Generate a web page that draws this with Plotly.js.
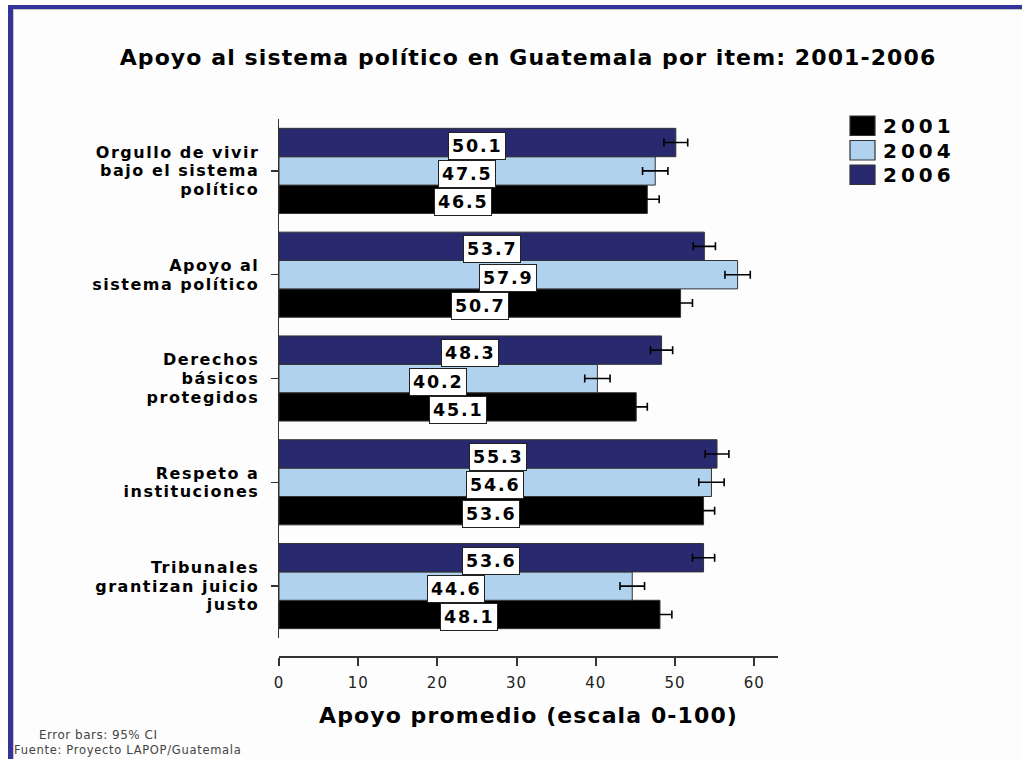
<!DOCTYPE html>
<html>
<head>
<meta charset="utf-8">
<script src="https://cdn.plot.ly/plotly-3.0.1.min.js"></script>
<style>
  html, body { margin: 0; padding: 0; background: #ffffff; }
  #wrap { position: relative; width: 1022px; height: 759px; overflow: hidden; background: #ffffff; }
  #frame { position: absolute; left: 8px; top: 5px; width: 1014px; height: 754px;
           box-sizing: border-box; border-top: 4px solid #333399; border-left: 5px solid #333399;
           background: #fdfdfd; box-shadow: inset 1px 1px 0 #c8c8c8; }
  #chart { position: absolute; left: 0; top: 0; width: 1022px; height: 759px; }
  text[style*="font-size: 22px"] { letter-spacing: 1.1px; }
  text[style*="font-size: 16px"] { letter-spacing: 1.5px; }
  text[style*="font-size: 17.5px"] { letter-spacing: 1.8px; }
  text[style*="font-size: 20px"] { letter-spacing: 4px; }
  text[style*="font-size: 15px"] { letter-spacing: 1px; }
  text[style*="font-size: 12px"] { letter-spacing: 0.5px; }
  text[style*="font-size: 11.5px"] { letter-spacing: 0.7px; }
</style>
</head>
<body>
<div id="wrap"><div id="frame"></div><div id="chart"></div></div>
<script>
// ---- data ----
const categories = [
  "Orgullo de vivir<br>bajo el sistema<br>político",
  "Apoyo al<br>sistema político",
  "Derechos<br>básicos<br>protegidos",
  "Respeto a<br>instituciones",
  "Tribunales<br>grantizan juicio<br>justo"
];
const years = ["2001", "2004", "2006"];
const values2001 = [46.5, 50.7, 45.1, 53.6, 48.1];
const values2004 = [47.5, 57.9, 40.2, 54.6, 44.6];
const values2006 = [50.1, 53.7, 48.3, 55.3, 53.6];
const err2001 = [1.5, 1.5, 1.4, 1.4, 1.5];
const err2004 = [1.6, 1.6, 1.6, 1.6, 1.55];
const err2006 = [1.5, 1.4, 1.4, 1.5, 1.4];
const tickVals = [0, 10, 20, 30, 40, 50, 60];
const titleText = "Apoyo al sistema político en Guatemala por item: 2001-2006";
const xTitleText = "Apoyo promedio (escala 0-100)";
const noteText = "Error bars: 95% CI";
const sourceText = "Fuente: Proyecto LAPOP/Guatemala";

// ---- styles ----
const colors = ["#000000", "#b0d2ef", "#29296f"];
const FONT = "DejaVu Sans, Verdana, sans-serif";
const W = 1022, H = 759;
const M = {l: 279, r: 244, t: 119, b: 102};
const PW = W - M.l - M.r, PH = H - M.t - M.b;
const px2x = p => (p - M.l) / PW;
const py2y = p => (H - M.b - p) / PH;
const bargap = 0.18;

const seriesVals = [values2001, values2004, values2006];
const seriesErr = [err2001, err2004, err2006];
const catOrder = categories.slice().reverse(); // first category on top

const traces = years.map((yr, i) => ({
  type: "bar",
  orientation: "h",
  name: yr,
  y: categories,
  x: seriesVals[i],
  marker: {color: colors[i], line: {color: "#333333", width: 1}},
  error_x: {type: "data", array: seriesErr[i], visible: true, color: "#000000", thickness: 1.6, width: 4},
  hoverinfo: "x+name"
}));

const annotations = [];
const barW = (1 - bargap) / years.length;
years.forEach((yr, i) => {
  seriesVals[i].forEach((v, j) => {
    const idx = catOrder.indexOf(categories[j]);
    annotations.push({
      x: v / 2, y: idx + (i - 1) * barW, xref: "x", yref: "y",
      text: v.toFixed(1), showarrow: false, yshift: -3,
      font: {family: FONT, size: 17.5, color: "#000000", weight: "bold"},
      bgcolor: "#ffffff", bordercolor: "#222222", borderwidth: 1, borderpad: 3
    });
  });
});

// custom legend (large swatches)
const shapes = [];
years.forEach((yr, i) => {
  const top = 116 + i * 24.5;
  shapes.push({type: "rect", xref: "paper", yref: "paper",
    x0: px2x(850), x1: px2x(875), y0: py2y(top + 19.5), y1: py2y(top),
    fillcolor: colors[i], line: {color: "#333333", width: 1.2}});
  annotations.push({xref: "paper", yref: "paper", x: px2x(881), y: py2y(top + 10),
    xanchor: "left", yanchor: "middle", text: yr, showarrow: false,
    font: {family: FONT, size: 20, color: "#000000", weight: "bold"}});
});

annotations.push({xref: "paper", yref: "paper", x: px2x(37), y: py2y(735),
  xanchor: "left", yanchor: "middle", text: noteText, showarrow: false,
  font: {family: FONT, size: 12, color: "#444444"}});
annotations.push({xref: "paper", yref: "paper", x: px2x(12), y: py2y(759),
  xanchor: "left", yanchor: "bottom", text: sourceText, showarrow: false,
  font: {family: FONT, size: 11.5, color: "#444444"}});

const layout = {
  width: W, height: H,
  margin: M,
  paper_bgcolor: "rgba(0,0,0,0)",
  plot_bgcolor: "rgba(0,0,0,0)",
  font: {family: FONT, color: "#000000"},
  showlegend: false,
  barmode: "group",
  bargap: bargap,
  bargroupgap: 0,
  title: {
    text: titleText, x: 528 / W, xanchor: "center", y: 1 - 57 / H, yanchor: "middle",
    font: {family: FONT, size: 22, color: "#000000", weight: "bold"}
  },
  xaxis: {
    range: [0, 63], tickvals: tickVals, ticktext: tickVals.map(String),
    anchor: "free", position: 0,
    showline: true, linecolor: "#333333", linewidth: 2,
    ticks: "outside", ticklen: 8, tickwidth: 2, tickcolor: "#333333",
    ticklabelstandoff: 4,
    showgrid: false, zeroline: false,
    tickfont: {family: FONT, size: 15, color: "#222222"},
    title: {text: xTitleText, standoff: 16, font: {family: FONT, size: 22, color: "#000000", weight: "bold"}},
    fixedrange: true
  },
  yaxis: {
    type: "category", categoryorder: "array", categoryarray: catOrder,
    domain: [(657 - 638) / PH, 1],
    showline: true, linecolor: "#333333", linewidth: 1.5,
    ticks: "outside", ticklen: 7, tickwidth: 1.5, tickcolor: "#333333",
    ticklabelstandoff: 8,
    showgrid: false, zeroline: false,
    tickfont: {family: FONT, size: 16, color: "#000000", weight: "bold"},
    fixedrange: true
  },
  shapes: shapes,
  annotations: annotations
};

// tighter line spacing for multi-line category labels (keeps them centred on the tick)
function tightenLabels() {
  const LS = 1.17, ORIG = 1.3;
  document.querySelectorAll("#chart .ytick text").forEach(t => {
    const lines = t.querySelectorAll("tspan.line");
    const n = lines.length;
    if (n < 2) return;
    lines.forEach((ln, k) => {
      ln.setAttribute("dy", (k * LS + (n - 1) * (ORIG - LS) / 2) + "em");
    });
  });
}

Plotly.newPlot("chart", traces, layout, {displayModeBar: false, staticPlot: true}).then(tightenLabels);
</script>
</body>
</html>
